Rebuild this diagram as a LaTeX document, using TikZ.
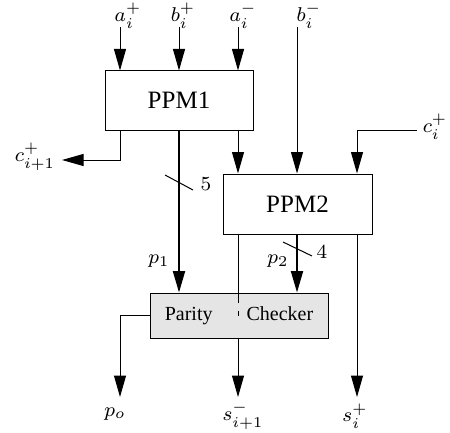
\documentclass[tikz,border=0pt]{standalone}
\usepackage{amsmath,amssymb}
\usepackage{fontspec}
\setmainfont{Liberation Serif}
\usepackage{tikz}
\usetikzlibrary{arrows.meta}

\begin{document}
\begin{tikzpicture}[x=0.4pt,y=0.4pt,yscale=-1,xscale=1,line width=0.4pt,
  blk/.style={draw, rectangle, inner sep=0pt, font=\fontsize{10}{12}\selectfont},
  arr/.style={-{Triangle[length=8.6pt,width=4.8pt]}},
  bus/.style={line width=0.8pt},
  lbl/.style={inner sep=0pt, font=\fontsize{8.5}{10}\selectfont}]
\useasboundingbox (0,0) rectangle (450,432);

%Blocks
\node[blk, minimum width=59.2pt, minimum height=23.6pt] (ppm1) at (179,100.5) {PPM1};
\node[blk, minimum width=59.6pt, minimum height=24pt] (ppm2) at (297.5,204) {PPM2};
\node[blk, fill=gray!20, minimum width=71.2pt, minimum height=18pt, font=\fontsize{8}{10}\selectfont] (pc) at (239,315.5) {Parity\hspace{13.6pt}Checker};

%Free ends
\coordinate (ap) at (120,27);
\coordinate (bp) at (179,27);
\coordinate (am) at (238,27);
\coordinate (bm) at (297,27);
\coordinate (cp) at (417,130);
\coordinate (cn) at (62,160);
\coordinate (po) at (120,397);
\coordinate (sm) at (238,397);
\coordinate (sp) at (357,397);

%Inputs
\draw[arr] (ap) -- (ap |- ppm1.north);
\draw[arr] (bp) -- (bp |- ppm1.north);
\draw[arr] (am) -- (am |- ppm1.north);
\draw[arr] (bm) -- (bm |- ppm2.north);
\draw[arr] (cp) -| (sp |- ppm2.north);

%PPM1 outputs
\draw[arr] (ap |- ppm1.south) |- (cn);
\draw[arr] (am |- ppm1.south) -- (am |- ppm2.north);
\draw[arr,bus] (bp |- ppm1.south) -- (bp |- pc.north);
\draw (165,175) -- (193,190);

%PPM2 outputs
\draw[arr,bus] (bm |- ppm2.south) -- (bm |- pc.north);
\draw (283,242) -- (312,256);
\draw (am |- ppm2.south) -- (am |- pc.north);
\draw[dash pattern=on 4pt off 3.3pt on 2pt off 20pt] (am |- pc.north) -- (am |- pc.south);
\draw[arr] (am |- pc.south) -- (sm);
\draw[arr] (sp |- ppm2.south) -- (sp);

%Parity output
\draw[arr] (pc.west) -| (po);

% Text Node
\node[lbl] at (128,16) {$a_i^+$};
\node[lbl] at (183,16) {$b_i^+$};
\node[lbl] at (243,16) {$a_i^-$};
\node[lbl] at (309,16) {$b_i^-$};
\node[lbl] at (435,127) {$c_i^+$};
\node[lbl] at (35,157) {$c_{i+1}^+$};
\node[lbl] at (206,184) {$5$};
\node[lbl] at (322,252) {$4$};
\node[lbl] at (159,261) {$p_1$};
\node[lbl] at (278,261) {$p_2$};
\node[lbl] at (115,414) {$p_o$};
\node[lbl] at (243,416) {$s_{i+1}^-$};
\node[lbl] at (355,416) {$s_i^+$};

\end{tikzpicture}
\end{document}
